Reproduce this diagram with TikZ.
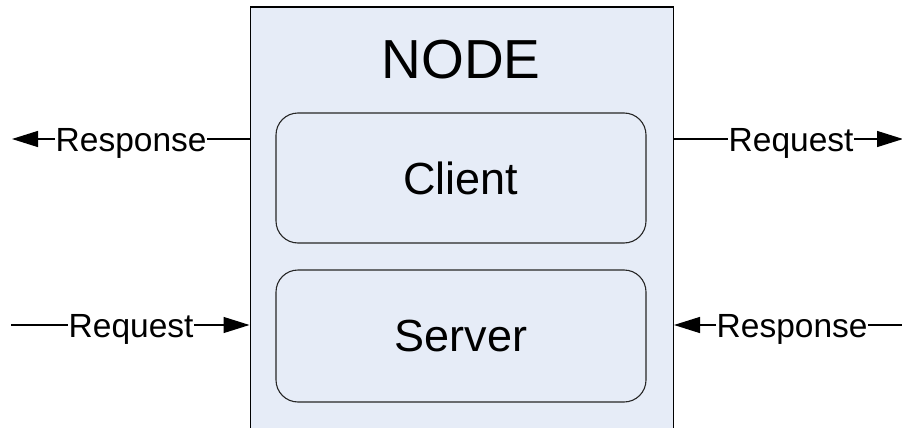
\documentclass[tikz,border=0pt]{standalone}
\usepackage{fontspec}
\setmainfont{Liberation Sans}
\usetikzlibrary{arrows.meta}
\definecolor{nodefill}{HTML}{E6ECF7}
\tikzset{
  lbl/.style={inner xsep=0.5pt, inner ysep=0pt, text height=24pt, text depth=0pt,
    font=\fontsize{33.5}{40}\selectfont, anchor=west},
  conn/.style={line width=1.3pt},
  arr/.style={conn, -{Triangle[length=26pt,width=16pt]}},
  inner/.style={draw=black!85, line width=1.1pt, rounded corners=22pt, minimum width=370pt,
    font=\fontsize{45}{54}\selectfont, inner sep=0pt},
}
\begin{document}
\begin{tikzpicture}[x=1pt,y=-1pt]
\useasboundingbox (0,0) rectangle (902,428);
\clip (0,0) rectangle (902,428);
\node[draw=black, line width=1.5pt, fill=nodefill, minimum width=423pt, minimum height=440pt,
  anchor=north west, inner sep=0pt] (main) at (249.5,6.5) {};
\node[font=\fontsize{55}{66}\selectfont, inner sep=0pt] (title) at (461,60) {NODE};
\node[inner, minimum height=130pt] (client) at (461,178) {Client};
\node[inner, minimum height=132pt] (server) at (461,336) {Server};
% top left
\node[lbl] (resp1) at (55,139) {Response};
\coordinate (t1) at (12,139);
\draw[arr] (resp1.west) -- (t1);
\draw[conn] (resp1.east) -- (main.west |- resp1.east);
% top right
\node[lbl] (req1) at (728,139) {Request};
\coordinate (t2) at (903,139);
\draw[conn] (main.east |- req1.west) -- (req1.west);
\draw[arr] (req1.east) -- (t2);
% bottom left
\node[lbl] (req2) at (68,325) {Request};
\coordinate (s3) at (11,325);
\draw[conn] (s3) -- (req2.west);
\draw[arr] (req2.east) -- (main.west |- req2.east);
% bottom right
\node[lbl] (resp2) at (716,325) {Response};
\coordinate (s4) at (902,325);
\draw[arr] (resp2.west) -- (main.east |- resp2.west);
\draw[conn] (resp2.east) -- (s4);
\end{tikzpicture}
\end{document}
